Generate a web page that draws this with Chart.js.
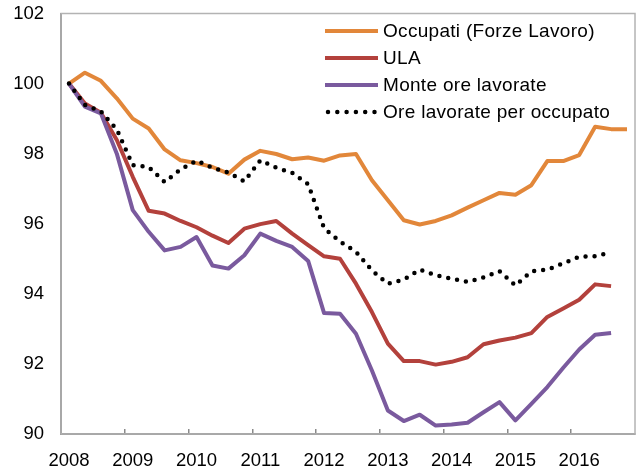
<!DOCTYPE html>
<html>
<head>
<meta charset="utf-8">
<script src="https://cdn.jsdelivr.net/npm/chart.js@4/dist/chart.umd.min.js"></script>
<style>
  html, body { margin: 0; padding: 0; background: #fff; }
  #wrap { position: relative; width: 642px; height: 472px; }
  #legend {
    position: absolute; left: 325px; top: 17px;
    font-family: 'Liberation Sans', Arial, sans-serif;
    font-size: 19px; letter-spacing: 0.3px; color: #000;
  }
  .row { height: 27px; display: flex; align-items: center; white-space: nowrap; }
  .row svg { margin-right: 5px; }
</style>
</head>
<body>
<div id="wrap">
  <canvas id="chart" width="642" height="472"></canvas>
  <div id="legend"></div>
</div>
<script>
// Quarters (T1..T4), 2008-2016, index 2008 T1 = 100
const quarters = [
  '2008 T1','2008 T2','2008 T3','2008 T4','2009 T1','2009 T2','2009 T3','2009 T4',
  '2010 T1','2010 T2','2010 T3','2010 T4','2011 T1','2011 T2','2011 T3','2011 T4',
  '2012 T1','2012 T2','2012 T3','2012 T4','2013 T1','2013 T2','2013 T3','2013 T4',
  '2014 T1','2014 T2','2014 T3','2014 T4','2015 T1','2015 T2','2015 T3','2015 T4',
  '2016 T1','2016 T2','2016 T3','2016 T4'
];

const occupati = [100.0, 100.31, 100.08, 99.58, 99.0, 98.72, 98.12, 97.81, 97.73, 97.62, 97.43, 97.83,
  98.08, 97.99, 97.84, 97.89, 97.8, 97.95, 97.99, 97.24, 96.67, 96.1, 95.98, 96.08,
  96.24, 96.46, 96.67, 96.88, 96.83, 97.1, 97.79, 97.79, 97.96, 98.77, 98.7, 98.7];

const ula = [100.0, 99.43, 99.17, 98.39, 97.34, 96.37, 96.29, 96.08, 95.9, 95.66, 95.45, 95.86,
  95.99, 96.08, 95.72, 95.39, 95.07, 95.0, 94.29, 93.48, 92.58, 92.08, 92.08, 91.98,
  92.06, 92.19, 92.56, 92.67, 92.75, 92.88, 93.34, 93.58, 93.83, 94.27, 94.22, null];

const monteOre = [100.0, 99.34, 99.15, 98.0, 96.39, 95.77, 95.24, 95.34, 95.62, 94.81, 94.72, 95.1,
  95.72, 95.51, 95.34, 94.94, 93.45, 93.43, 92.86, 91.81, 90.67, 90.37, 90.55, 90.24,
  90.27, 90.32, 90.62, 90.91, 90.39, 90.86, 91.34, 91.89, 92.41, 92.83, 92.88, null];

const orePerOccupato = [100.0, 99.39, 99.21, 98.69, 97.67, 97.62, 97.19, 97.55, 97.8, 97.6, 97.46, 97.21,
  97.81, 97.6, 97.45, 97.13, 95.87, 95.49, 95.2, 94.67, 94.29, 94.41, 94.69, 94.53,
  94.43, 94.34, 94.47, 94.65, 94.24, 94.64, 94.69, 94.87, 95.06, 95.07, 95.19, null];

const yTicks = [90, 92, 94, 96, 98, 100, 102];

const FONT = { family: "'Liberation Sans', Arial, sans-serif", size: 18.5 };

// grey box round the plot area
const frame = {
  id: 'frame',
  beforeDatasetsDraw(chart) {
    const { ctx, chartArea: a } = chart;
    ctx.save();
    ctx.strokeStyle = '#b3b3b3';
    ctx.lineWidth = 1.5;
    ctx.strokeRect(a.left, a.top, a.right - a.left, a.bottom - a.top);
    ctx.restore();
  }
};

const chart = new Chart(document.getElementById('chart'), {
  type: 'line',
  data: {
    labels: quarters,
    datasets: [
      { label: 'Occupati (Forze Lavoro)', data: occupati, borderColor: '#E2873A', order: 4 },
      { label: 'ULA', data: ula, borderColor: '#B3413C', order: 3 },
      { label: 'Monte ore lavorate', data: monteOre, borderColor: '#7A5A9E', order: 2 },
      { label: 'Ore lavorate per occupato', data: orePerOccupato, borderColor: '#000000',
        borderWidth: 4.5, borderDash: [0, 9], borderCapStyle: 'round', order: 1 }
    ]
  },
  options: {
    responsive: false,
    animation: false,
    layout: { padding: { left: 0, right: 7, top: 0, bottom: 0 } },
    plugins: { legend: { display: false }, tooltip: { enabled: false } },
    elements: {
      point: { radius: 0 },
      line: { tension: 0, borderWidth: 4, borderJoinStyle: 'round', fill: false }
    },
    scales: {
      x: {
        type: 'category',
        offset: true,
        grid: {
          offset: true,
          drawOnChartArea: false,
          tickLength: -5,
          lineWidth: 1.5,
          color: c => (c.index % 4 === 0 ? '#8a8a8a' : 'rgba(0,0,0,0)')
        },
        border: { color: '#8a8a8a', width: 2 },
        ticks: {
          autoSkip: false, maxRotation: 0, minRotation: 0,
          padding: 21, color: '#000', font: FONT,
          callback: function (v, i) {
            return i % 4 === 0 ? this.getLabelForValue(v).slice(0, 4) : '';
          }
        },
        afterFit: s => { s.height = 38; s.paddingLeft = 0; s.paddingRight = 0; }
      },
      y: {
        min: yTicks[0],
        max: yTicks[yTicks.length - 1],
        grid: { drawOnChartArea: false, drawTicks: false },
        border: { color: '#8a8a8a', width: 2 },
        ticks: { stepSize: 2, padding: 17, color: '#000', font: FONT },
        afterFit: s => { s.width = 61; s.paddingTop = 13.5; s.paddingBottom = 0; }
      }
    }
  },
  plugins: [frame]
});

// legend inside the plot, one entry per row
const legend = document.getElementById('legend');
chart.data.datasets.forEach(ds => {
  const row = document.createElement('div');
  row.className = 'row';
  const dash = ds.borderDash ? 'stroke-dasharray="0 9.3" stroke-linecap="round" stroke-width="4.5"'
                             : 'stroke-width="4"';
  row.innerHTML = `<svg width="53" height="10"><line x1="${ds.borderDash ? 3 : 0}" y1="5" x2="53" y2="5" stroke="${ds.borderColor}" ${dash}/></svg><span>${ds.label}</span>`;
  legend.appendChild(row);
});
</script>
</body>
</html>
